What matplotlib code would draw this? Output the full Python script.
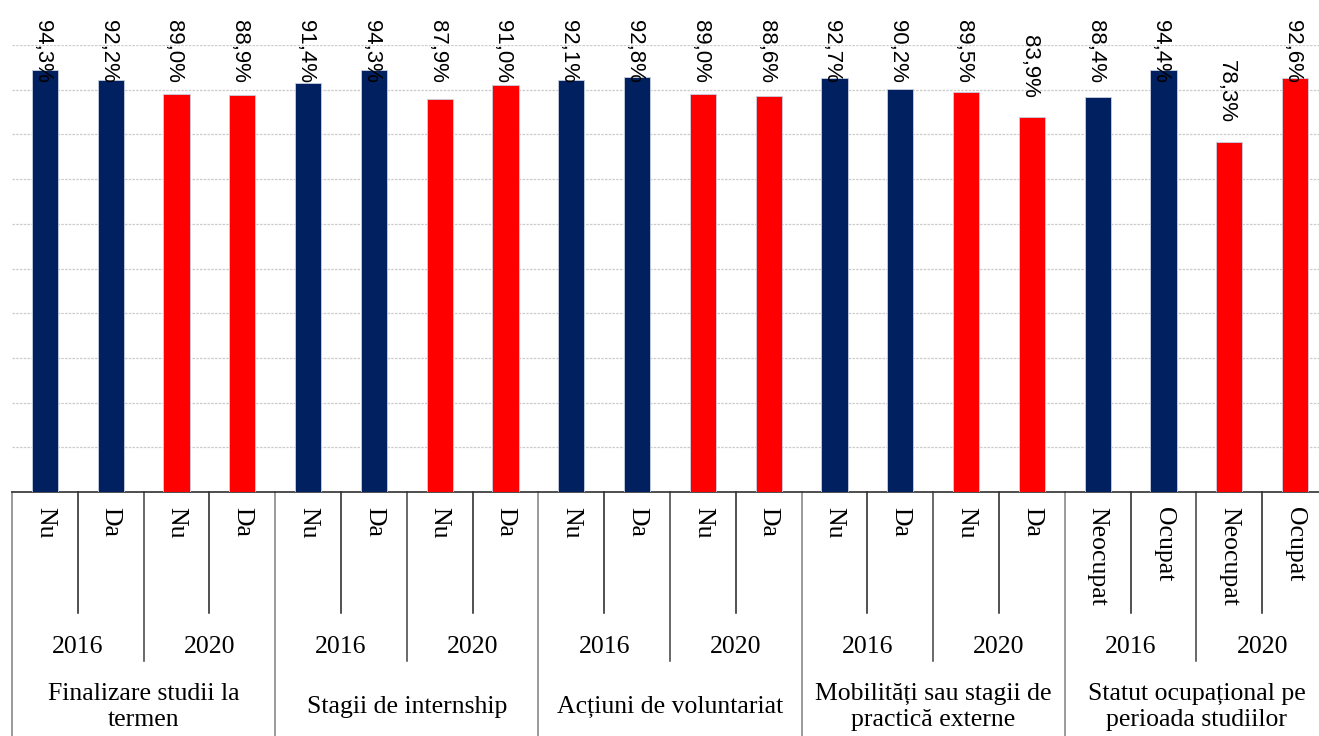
import matplotlib.pyplot as plt

# date
categorii = ["Finalizare studii la\ntermen", "Stagii de internship", "Acțiuni de voluntariat",
             "Mobilități sau stagii de\npractică externe", "Statut ocupațional pe\nperioada studiilor"]
ani = ["2016", "2020"]
raspunsuri = [["Nu", "Da"]] * 4 + [["Neocupat", "Ocupat"]]
valori = [94.3, 92.2, 89.0, 88.9,
          91.4, 94.3, 87.9, 91.0,
          92.1, 92.8, 89.0, 88.6,
          92.7, 90.2, 89.5, 83.9,
          88.4, 94.4, 78.3, 92.6]
culori_ani = {"2016": "#002060", "2020": "#FF0000"}

W, H = 1319, 736
fig = plt.figure(figsize=(W / 100, H / 100), dpi=100)
ax_l, ax_r, ax_t, ax_b = 12, 1328, 45, 492
ax = fig.add_axes([ax_l / W, 1 - ax_b / H, (ax_r - ax_l) / W, (ax_b - ax_t) / H])

# etichete pe 3 nivele
culori, nivel1 = [], []
for ci, cat in enumerate(categorii):
    for an in ani:
        for r in raspunsuri[ci]:
            nivel1.append(r)
            culori.append(culori_ani[an])
x = list(range(len(valori)))

ax.bar(x, valori, width=0.4, color=culori, edgecolor="#c8d0e0", linewidth=0.6, zorder=3)
ax.set_xlim(-0.5, len(valori) - 0.5)
ax.set_ylim(0, 100)
ax.set_yticks(range(10, 101, 10))
ax.grid(axis="y", color="#cccccc", linestyle=(0, (2, 1)), linewidth=0.9, zorder=0)
ax.tick_params(left=False, labelleft=False, bottom=False, labelbottom=False)
for s in ["top", "right", "left"]:
    ax.spines[s].set_visible(False)
ax.spines["bottom"].set_color("#303030")
ax.spines["bottom"].set_linewidth(1.2)

# valori deasupra barelor
for xi, v in zip(x, valori):
    ax.text(xi - 0.04, min(v + 18.4, 105.6), f"{v:.1f}%".replace(".", ","),
            rotation=-90, ha="center", va="top", fontsize=16,
            family="Liberation Sans", clip_on=False)

tr = ax.get_xaxis_transform()

def fy(p):
    # pixel (de sus) -> fractie din axe
    return (ax_b - p) / (ax_b - ax_t)

serif = "Liberation Serif"
for xi, r in zip(x, nivel1):
    ax.text(xi, fy(507), r, rotation=-90, ha="center", va="top", fontsize=18.5,
            family=serif, transform=tr, clip_on=False)

for ci, cat in enumerate(categorii):
    for ai, an in enumerate(ani):
        xc = ci * 4 + ai * 2 + 0.5
        ax.text(xc, fy(647), an, ha="center", va="center", fontsize=18.5,
                family=serif, transform=tr, clip_on=False)
    ax.text(ci * 4 + 1.5, fy(707), cat, ha="center", va="center", fontsize=18.5,
            family=serif, linespacing=1.2, transform=tr, clip_on=False)

# separatoare
for b in range(len(valori) + 1):
    xb = b - 0.5
    if b % 4 == 0:
        y_end, col = fy(740), "#7f7f7f"
    elif b % 2 == 0:
        y_end, col = fy(661), "#404040"
    else:
        y_end, col = fy(613), "#202020"
    ax.plot([xb, xb], [0, y_end], color=col, linewidth=1.1, transform=tr, clip_on=False)

fig.savefig("out.png", dpi=100)
